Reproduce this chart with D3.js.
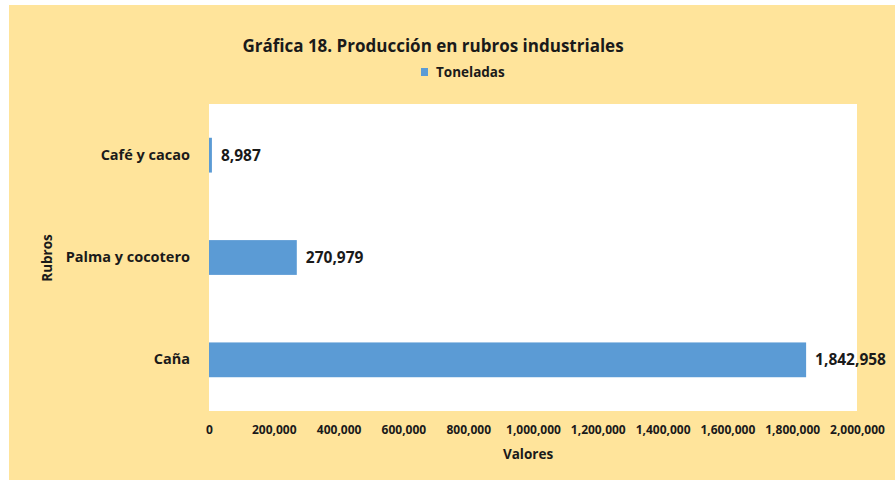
<!DOCTYPE html>
<html>
<head>
<meta charset="utf-8">
<script src="https://cdn.jsdelivr.net/npm/d3@7/dist/d3.min.js"></script>
<style>
  html, body { margin: 0; padding: 0; background: #fff; }
  svg { display: block; font-family: "Open Sans", "Noto Sans", sans-serif; }
</style>
</head>
<body>
<svg id="chart" width="895" height="480"></svg>
<script>
// data
const categories = ['Café y cacao', 'Palma y cocotero', 'Caña'];
const toneladas = [8987, 270979, 1842958];
const xTicks = [0, 200000, 400000, 600000, 800000, 1000000, 1200000, 1400000, 1600000, 1800000, 2000000];

const W = 895, H = 480;
const plot = { left: 209, top: 104, right: 857, bottom: 411 };
const fmt = d3.format(',');

const svg = d3.select('#chart');

// outer chart area
svg.append('rect')
  .attr('x', 9).attr('y', 5)
  .attr('width', W - 9).attr('height', H - 5)
  .attr('fill', '#FFE49B');

// plot area
svg.append('rect')
  .attr('x', plot.left).attr('y', plot.top)
  .attr('width', plot.right - plot.left).attr('height', plot.bottom - plot.top)
  .attr('fill', '#fff');

const x = d3.scaleLinear().domain([0, 2000000]).range([plot.left, plot.right]);
const y = d3.scaleBand().domain(categories).range([plot.top, plot.bottom]).paddingInner(0.66).paddingOuter(0.33);

const rows = categories.map((c, i) => ({ cat: c, val: toneladas[i] }));

svg.append('g')
  .selectAll('rect')
  .data(rows)
  .join('rect')
  .attr('x', x(0))
  .attr('y', (d) => y(d.cat))
  .attr('width', (d) => Math.max(2, x(d.val) - x(0)))
  .attr('height', y.bandwidth())
  .attr('fill', '#5B9BD5');

// value labels
svg.append('g')
  .selectAll('text')
  .data(rows)
  .join('text')
  .attr('x', (d) => Math.max(x(d.val), x(0) + 2) + 9)
  .attr('y', (d) => y(d.cat) + y.bandwidth() / 2)
  .attr('dy', '0.35em')
  .attr('font-size', 15.5)
  .attr('font-weight', 'bold')
  .attr('fill', '#1a1a1a')
  .text((d) => fmt(d.val));

// category axis
const yAxis = svg.append('g')
  .attr('transform', `translate(${plot.left},0)`)
  .call(d3.axisLeft(y).tickSize(0).tickPadding(19));
yAxis.select('.domain').remove();
yAxis.selectAll('text')
  .attr('font-size', 14.5)
  .attr('font-weight', 'bold')
  .attr('font-family', '"Open Sans", sans-serif')
  .attr('fill', '#1a1a1a');

// value axis
const xAxis = svg.append('g')
  .attr('transform', `translate(0,${plot.bottom})`)
  .call(d3.axisBottom(x).tickValues(xTicks).tickFormat(fmt).tickSize(0).tickPadding(14));
xAxis.select('.domain').remove();
xAxis.selectAll('text')
  .attr('font-size', 12)
  .attr('font-weight', 'bold')
  .attr('font-family', '"Open Sans", sans-serif')
  .attr('fill', '#1a1a1a');

// axis titles
svg.append('text')
  .attr('x', 528)
  .attr('y', 459)
  .attr('text-anchor', 'middle')
  .attr('font-size', 13.5)
  .attr('font-weight', 'bold')
  .attr('fill', '#1a1a1a')
  .text('Valores');

svg.append('text')
  .attr('transform', 'translate(52,258) rotate(-90)')
  .attr('text-anchor', 'middle')
  .attr('font-size', 13.5)
  .attr('font-weight', 'bold')
  .attr('fill', '#1a1a1a')
  .text('Rubros');

// title
svg.append('text')
  .attr('x', 433)
  .attr('y', 52)
  .attr('text-anchor', 'middle')
  .attr('font-size', 17)
  .attr('font-weight', 'bold')
  .attr('fill', '#1a1a1a')
  .text('Gráfica 18. Producción en rubros industriales');

// legend
const legend = svg.append('g').attr('transform', 'translate(421,68)');
legend.append('rect')
  .attr('width', 7).attr('height', 8)
  .attr('fill', '#5B9BD5');
legend.append('text')
  .attr('x', 15).attr('y', 4)
  .attr('dy', '0.35em')
  .attr('font-size', 13.5)
  .attr('font-weight', 'bold')
  .attr('fill', '#1a1a1a')
  .text('Toneladas');
</script>
</body>
</html>
